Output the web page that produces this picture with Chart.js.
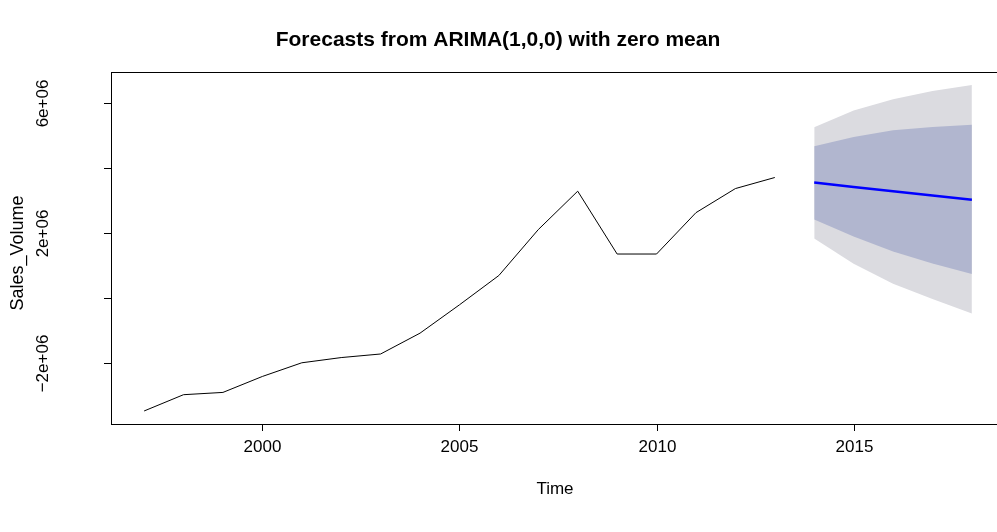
<!DOCTYPE html>
<html>
<head>
<meta charset="utf-8">
<script src="https://cdn.jsdelivr.net/npm/chart.js@4/dist/chart.umd.min.js"></script>
<style>
  html, body { margin: 0; padding: 0; background: #fff; overflow: hidden; }
  #wrap { position: relative; width: 1010px; height: 532px; }
</style>
</head>
<body>
<div id="wrap"><canvas id="grafico"></canvas></div>
<script>
// ----------------------------------------------------------------
// Dados
// ----------------------------------------------------------------
const anosHist = [1997, 1998, 1999, 2000, 2001, 2002, 2003, 2004, 2005,
                  2006, 2007, 2008, 2009, 2010, 2011, 2012, 2013];
const salesVolume = [-3470000, -2970000, -2900000, -2410000, -1990000, -1830000,
                     -1720000, -1080000, -210000, 690000, 2100000, 3280000,
                     1350000, 1350000, 2620000, 3360000, 3700000];

const anosPrev = [2014, 2015, 2016, 2017, 2018];
const previsao = [3550000, 3410000, 3280000, 3150000, 3020000];
const lo80 = [2410000, 1890000, 1430000, 1060000, 740000];
const hi80 = [4660000, 4940000, 5150000, 5250000, 5320000];
const lo95 = [1830000, 1050000, 440000, -30000, -480000];
const hi95 = [5240000, 5760000, 6100000, 6360000, 6540000];

const xTicks = [2000, 2005, 2010, 2015];
const yTicks = [-2000000, 0, 2000000, 4000000, 6000000];
const yTickLabels = ['\u22122e+06', '', '2e+06', '', '6e+06'];

const TITULO = 'Forecasts from ARIMA(1,0,0) with zero mean';
const X_TITULO = 'Time';
const Y_TITULO = 'Sales_Volume';

// ----------------------------------------------------------------
// Helpers
// ----------------------------------------------------------------
const pts = (xs, ys) => xs.map((x, i) => ({ x, y: ys[i] }));
const FONTE = '"Liberation Sans", Arial, Helvetica, sans-serif';

const COR_80 = '#B1B6CF';
const COR_95 = '#DBDBE0';

function faixa(dados, cor, fill) {
  return {
    data: dados,
    borderWidth: 0,
    borderColor: 'rgba(0,0,0,0)',
    backgroundColor: cor,
    pointRadius: 0,
    fill: fill,
    tension: 0,
  };
}

// Eixos estilo R base graphics (caixa, ticks pra fora, rótulos)
const eixosR = {
  id: 'eixosR',
  afterDraw(chart) {
    const { ctx, chartArea: a, scales } = chart;
    const sx = scales.x, sy = scales.y;
    const TICK = 7;
    ctx.save();
    ctx.strokeStyle = '#000';
    ctx.fillStyle = '#000';
    ctx.lineWidth = 1;

    // caixa
    ctx.strokeRect(Math.round(a.left) + 0.5, Math.round(a.top) + 0.5,
                   Math.round(a.right - a.left), Math.round(a.bottom - a.top));

    // eixo x
    ctx.font = '17px ' + FONTE;
    ctx.textAlign = 'center';
    ctx.textBaseline = 'middle';
    xTicks.forEach(v => {
      const px = Math.round(sx.getPixelForValue(v)) + 0.5;
      ctx.beginPath();
      ctx.moveTo(px, a.bottom);
      ctx.lineTo(px, a.bottom + TICK);
      ctx.stroke();
      ctx.fillText(String(v), px, 447);
    });

    // eixo y
    yTicks.forEach((v, i) => {
      const py = Math.round(sy.getPixelForValue(v)) + 0.5;
      ctx.beginPath();
      ctx.moveTo(a.left, py);
      ctx.lineTo(a.left - TICK, py);
      ctx.stroke();
      if (yTickLabels[i]) {
        ctx.save();
        ctx.translate(43, py);
        ctx.rotate(-Math.PI / 2);
        ctx.fillText(yTickLabels[i], 0, 0);
        ctx.restore();
      }
    });

    // títulos dos eixos
    const cx = (a.left + a.right) / 2;
    ctx.fillText(X_TITULO, cx - 3, 489);
    ctx.save();
    ctx.font = '18px ' + FONTE;
    ctx.translate(18, 253);
    ctx.rotate(-Math.PI / 2);
    ctx.fillText(Y_TITULO, 0, 0);
    ctx.restore();

    // título principal
    ctx.font = 'bold 21px ' + FONTE;
    ctx.fillText(TITULO, 498, 40);
    ctx.restore();
  },
};

new Chart(document.getElementById('grafico'), {
  type: 'line',
  data: {
    datasets: [
      { data: pts(anosHist, salesVolume), borderColor: '#000', borderWidth: 1,
        pointRadius: 0, fill: false, tension: 0 },
      { data: pts(anosPrev, previsao), borderColor: '#0000FF', borderWidth: 2.5,
        pointRadius: 0, fill: false, tension: 0 },
      faixa(pts(anosPrev, hi80), COR_80, '+1'),
      faixa(pts(anosPrev, lo80), COR_80, false),
      faixa(pts(anosPrev, hi95), COR_95, '+1'),
      faixa(pts(anosPrev, lo95), COR_95, false),
    ],
  },
  options: {
    responsive: true,
    maintainAspectRatio: false,
    animation: false,
    events: [],
    layout: { padding: { left: 111, top: 72, right: 5, bottom: 108 } },
    plugins: { legend: { display: false }, tooltip: { enabled: false } },
    scales: {
      x: { type: 'linear', min: 1996.16, max: 2018.84, display: false },
      y: { type: 'linear', min: -3870000, max: 6940000, display: false },
    },
  },
  plugins: [eixosR],
});
</script>
</body>
</html>
